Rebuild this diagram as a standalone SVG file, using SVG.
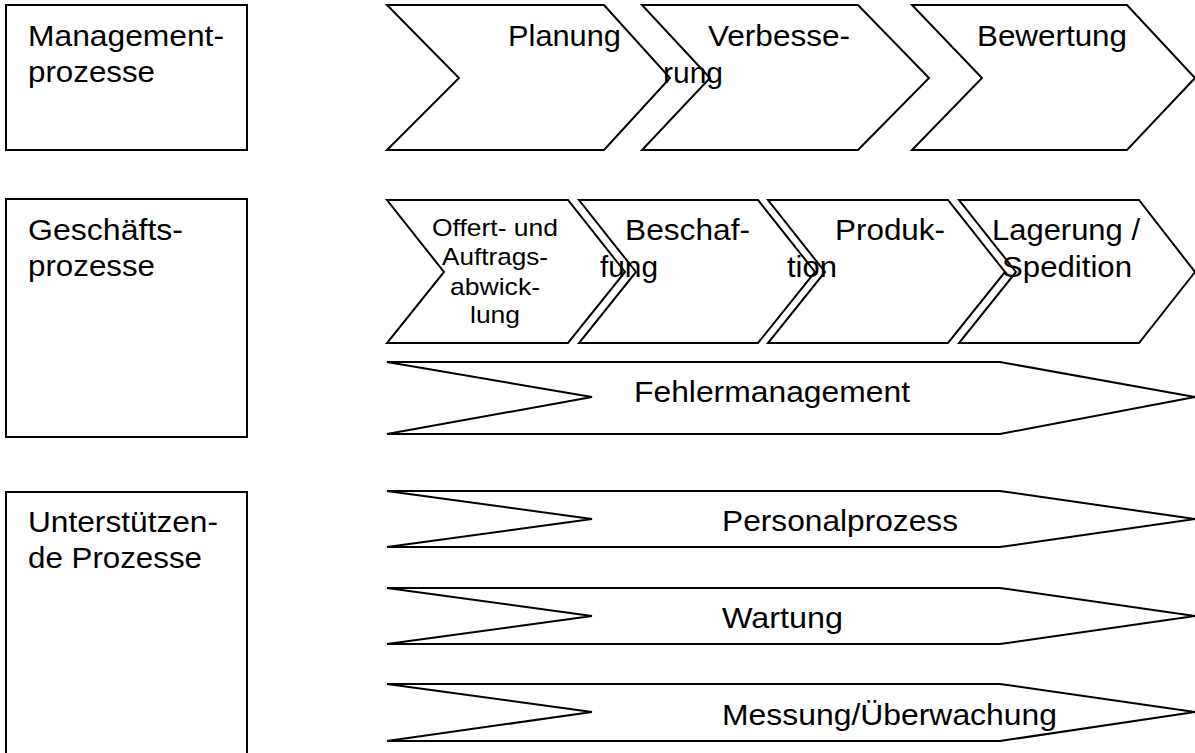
<svg xmlns="http://www.w3.org/2000/svg" width="1195" height="753" viewBox="0 0 1195 753">
<style>
.s{fill:#fff;stroke:#000;stroke-width:2;stroke-linejoin:miter}
.t{font-family:"Liberation Sans",Arial,sans-serif;font-size:30px;fill:#000}
.m{font-size:24px}
</style>
<rect width="1195" height="753" fill="#fff"/>
<g id="lane-management">
<rect class="s" x="6" y="5" width="241" height="145"/>
<text class="t" x="28" y="46" textLength="196" lengthAdjust="spacingAndGlyphs">Management-</text>
<text class="t" x="28" y="82" textLength="127" lengthAdjust="spacingAndGlyphs">prozesse</text>
</g>
<g id="lane-geschaeft">
<rect class="s" x="6" y="199" width="241" height="238"/>
<text class="t" x="28" y="240" textLength="155" lengthAdjust="spacingAndGlyphs">Geschäfts-</text>
<text class="t" x="28" y="276" textLength="127" lengthAdjust="spacingAndGlyphs">prozesse</text>
</g>
<g id="lane-support">
<rect class="s" x="6" y="492" width="241" height="280"/>
<text class="t" x="28" y="532" textLength="190" lengthAdjust="spacingAndGlyphs">Unterstützen-</text>
<text class="t" x="28" y="568" textLength="174" lengthAdjust="spacingAndGlyphs">de Prozesse</text>
</g>
<g id="planung">
<polygon class="s" points="387,5 604,5 670,78 604,150 387,150 459,78"/>
<text class="t" x="508" y="46" textLength="113" lengthAdjust="spacingAndGlyphs">Planung</text>
</g>
<g id="verbesserung">
<polygon class="s" points="642,5 858,5 929,78 858,150 642,150 710,78"/>
<text class="t" x="708" y="46" textLength="142" lengthAdjust="spacingAndGlyphs">Verbesse-</text>
<text class="t" x="663" y="83" textLength="60" lengthAdjust="spacingAndGlyphs">rung</text>
</g>
<g id="bewertung">
<polygon class="s" points="912,5 1127,5 1195,78 1127,150 912,150 982,78"/>
<text class="t" x="977" y="46" textLength="150" lengthAdjust="spacingAndGlyphs">Bewertung</text>
</g>
<g id="offert">
<polygon class="s" points="387,200 568,200 625,272 568,343 387,343 444,272"/>
<text class="t m" x="432" y="236" textLength="126" lengthAdjust="spacingAndGlyphs">Offert- und</text>
<text class="t m" x="442" y="265" textLength="106" lengthAdjust="spacingAndGlyphs">Auftrags-</text>
<text class="t m" x="450" y="295" textLength="90" lengthAdjust="spacingAndGlyphs">abwick-</text>
<text class="t m" x="470" y="323" textLength="50" lengthAdjust="spacingAndGlyphs">lung</text>
</g>
<g id="beschaffung">
<polygon class="s" points="579,200 758,200 815,272 758,343 579,343 636,272"/>
<text class="t" x="625" y="240" textLength="125" lengthAdjust="spacingAndGlyphs">Beschaf-</text>
<text class="t" x="600" y="277" textLength="58" lengthAdjust="spacingAndGlyphs">fung</text>
</g>
<g id="produktion">
<polygon class="s" points="768,200 948,200 1005,272 948,343 768,343 825,272"/>
<text class="t" x="835" y="240" textLength="110" lengthAdjust="spacingAndGlyphs">Produk-</text>
<text class="t" x="787" y="277" textLength="50" lengthAdjust="spacingAndGlyphs">tion</text>
</g>
<g id="lagerung">
<polygon class="s" points="959,200 1139,200 1195,272 1139,343 959,343 1016,272"/>
<text class="t" x="992" y="240" textLength="148" lengthAdjust="spacingAndGlyphs">Lagerung /</text>
<text class="t" x="1002" y="277" textLength="130" lengthAdjust="spacingAndGlyphs">Spedition</text>
</g>
<g id="fehlermanagement">
<polygon class="s" points="387,362 1000,362 1195,397 1000,434 387,434 592,397"/>
<text class="t" x="634" y="402" textLength="276" lengthAdjust="spacingAndGlyphs">Fehlermanagement</text>
</g>
<g id="personalprozess">
<polygon class="s" points="387,491 1000,491 1195,519 1000,547 387,547 592,519"/>
<text class="t" x="722" y="531" textLength="236" lengthAdjust="spacingAndGlyphs">Personalprozess</text>
</g>
<g id="wartung">
<polygon class="s" points="387,588 1000,588 1195,616 1000,644 387,644 592,616"/>
<text class="t" x="722" y="628" textLength="121" lengthAdjust="spacingAndGlyphs">Wartung</text>
</g>
<g id="messung">
<polygon class="s" points="387,684 1000,684 1195,712 1000,741 387,741 592,712"/>
<text class="t" x="722" y="725" textLength="335" lengthAdjust="spacingAndGlyphs">Messung/Überwachung</text>
</g>
<g id="connectors"></g>
</svg>
